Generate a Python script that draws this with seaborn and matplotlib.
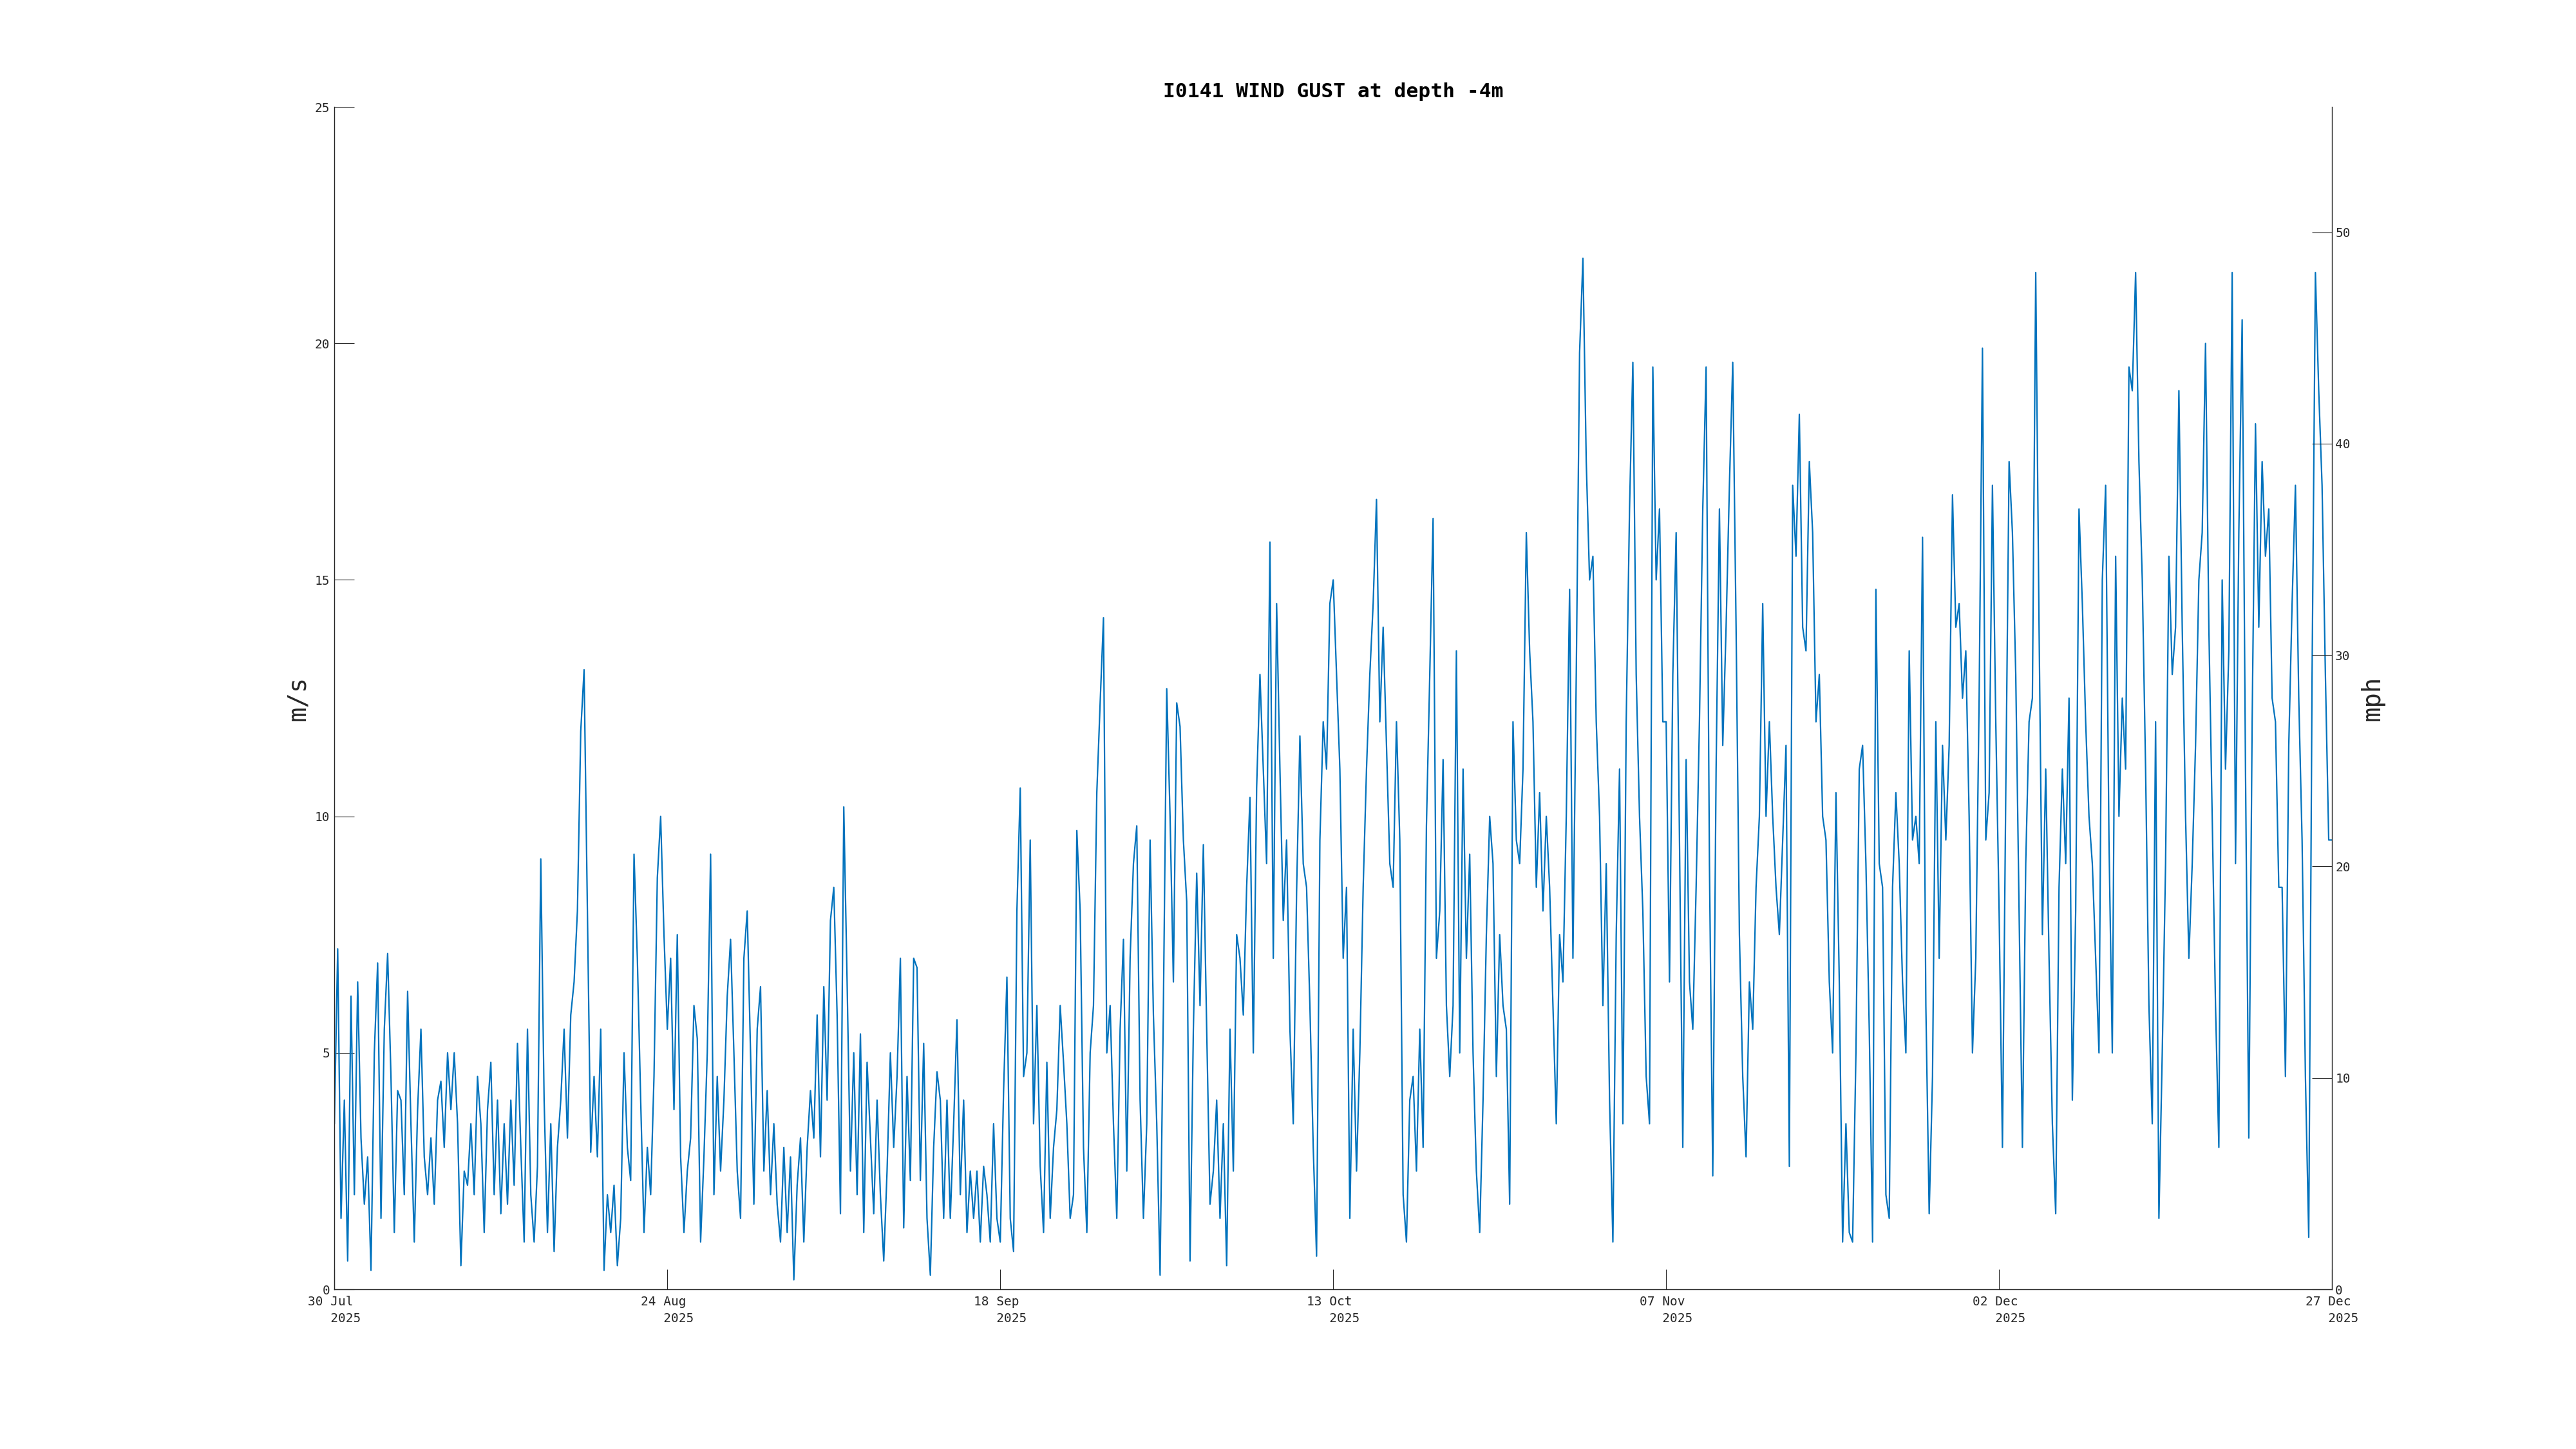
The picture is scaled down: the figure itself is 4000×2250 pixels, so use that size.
import numpy as np
import pandas as pd
import matplotlib
matplotlib.use('Agg')
import matplotlib.pyplot as plt
import seaborn as sns

# 6-hourly wind gust readings (m/s), one list per 25-day block
gust_jul_aug = [
    3.5, 7.2, 1.5, 4.0, 0.6, 6.2, 2.0, 6.5, 3.2, 1.8, 2.8, 0.4,
    5.0, 6.9, 1.5, 5.5, 7.1, 4.5, 1.2, 4.2, 4.0, 2.0, 6.3, 3.5,
    1.0, 3.8, 5.5, 2.8, 2.0, 3.2, 1.8, 4.0, 4.4, 3.0, 5.0, 3.8,
    5.0, 3.5, 0.5, 2.5, 2.2, 3.5, 2.0, 4.5, 3.5, 1.2, 3.8, 4.8,
    2.0, 4.0, 1.6, 3.5, 1.8, 4.0, 2.2, 5.2, 3.0, 1.0, 5.5, 2.0,
    1.0, 2.6, 9.1, 4.0, 1.2, 3.5, 0.8, 3.0, 4.0, 5.5, 3.2, 5.8,
    6.5, 8.0, 11.8, 13.1, 8.0, 2.9, 4.5, 2.8, 5.5, 0.4, 2.0, 1.2,
    2.2, 0.5, 1.5, 5.0, 3.0, 2.3, 9.2, 7.0, 4.0, 1.2, 3.0, 2.0,
    4.5, 8.7, 10.0, 7.5,
]
gust_aug_sep = [
    5.5, 7.0, 3.8, 7.5, 2.8, 1.2, 2.5, 3.2, 6.0, 5.3, 1.0, 2.8,
    5.0, 9.2, 2.0, 4.5, 2.5, 4.0, 6.2, 7.4, 5.0, 2.5, 1.5, 7.0,
    8.0, 5.0, 1.8, 5.5, 6.4, 2.5, 4.2, 2.0, 3.5, 1.8, 1.0, 3.0,
    1.2, 2.8, 0.2, 2.2, 3.2, 1.0, 3.0, 4.2, 3.2, 5.8, 2.8, 6.4,
    4.0, 7.8, 8.5, 5.8, 1.6, 10.2, 6.5, 2.5, 5.0, 2.0, 5.4, 1.2,
    4.8, 3.2, 1.6, 4.0, 2.0, 0.6, 2.5, 5.0, 3.0, 4.5, 7.0, 1.3,
    4.5, 2.3, 7.0, 6.8, 2.3, 5.2, 1.5, 0.3, 3.0, 4.6, 4.0, 1.5,
    4.0, 1.5, 3.5, 5.7, 2.0, 4.0, 1.2, 2.5, 1.5, 2.5, 1.0, 2.6,
    2.0, 1.0, 3.5, 1.5,
]
gust_sep_oct = [
    1.0, 4.2, 6.6, 1.5, 0.8, 8.0, 10.6, 4.5, 5.0, 9.5, 3.5, 6.0,
    2.6, 1.2, 4.8, 1.5, 3.0, 3.8, 6.0, 4.8, 3.5, 1.5, 2.0, 9.7,
    8.0, 3.0, 1.2, 5.0, 6.0, 10.5, 12.4, 14.2, 5.0, 6.0, 3.5, 1.5,
    5.5, 7.4, 2.5, 7.0, 9.0, 9.8, 4.0, 1.5, 3.5, 9.5, 5.8, 3.5,
    0.3, 6.0, 12.7, 10.0, 6.5, 12.4, 11.9, 9.5, 8.2, 0.6, 5.5, 8.8,
    6.0, 9.4, 5.5, 1.8, 2.5, 4.0, 1.5, 3.5, 0.5, 5.5, 2.5, 7.5,
    7.0, 5.8, 8.5, 10.4, 5.0, 10.6, 13.0, 11.0, 9.0, 15.8, 7.0, 14.5,
    11.0, 7.8, 9.5, 5.5, 3.5, 8.4, 11.7, 9.0, 8.5, 6.0, 3.0, 0.7,
    9.5, 12.0, 11.0, 14.5,
]
gust_oct_nov = [
    15.0, 13.0, 11.0, 7.0, 8.5, 1.5, 5.5, 2.5, 5.0, 8.5, 11.0, 13.0,
    14.5, 16.7, 12.0, 14.0, 11.5, 9.0, 8.5, 12.0, 9.5, 2.0, 1.0, 4.0,
    4.5, 2.5, 5.5, 3.0, 9.8, 13.0, 16.3, 7.0, 8.0, 11.2, 6.0, 4.5,
    6.0, 13.5, 5.0, 11.0, 7.0, 9.2, 5.0, 2.5, 1.2, 4.0, 7.5, 10.0,
    9.0, 4.5, 7.5, 6.0, 5.5, 1.8, 12.0, 9.5, 9.0, 11.0, 16.0, 13.5,
    12.0, 8.5, 10.5, 8.0, 10.0, 8.5, 6.0, 3.5, 7.5, 6.5, 10.0, 14.8,
    7.0, 13.0, 19.8, 21.8, 17.5, 15.0, 15.5, 12.0, 10.0, 6.0, 9.0, 4.0,
    1.0, 7.5, 11.0, 3.5, 12.0, 16.5, 19.6, 13.0, 10.0, 8.0, 4.5, 3.5,
    19.5, 15.0, 16.5, 12.0,
]
gust_nov_dec = [
    12.0, 6.5, 13.0, 16.0, 9.5, 3.0, 11.2, 6.5, 5.5, 8.5, 12.0, 16.5,
    19.5, 9.0, 2.4, 11.0, 16.5, 11.5, 14.0, 17.0, 19.6, 14.0, 7.5, 4.5,
    2.8, 6.5, 5.5, 8.5, 10.0, 14.5, 10.0, 12.0, 10.0, 8.5, 7.5, 9.5,
    11.5, 2.6, 17.0, 15.5, 18.5, 14.0, 13.5, 17.5, 16.0, 12.0, 13.0, 10.0,
    9.5, 6.5, 5.0, 10.5, 6.5, 1.0, 3.5, 1.2, 1.0, 5.0, 11.0, 11.5,
    9.0, 5.5, 1.0, 14.8, 9.0, 8.5, 2.0, 1.5, 8.5, 10.5, 9.0, 6.5,
    5.0, 13.5, 9.5, 10.0, 9.0, 15.9, 6.0, 1.6, 4.5, 12.0, 7.0, 11.5,
    9.5, 11.5, 16.8, 14.0, 14.5, 12.5, 13.5, 10.0, 5.0, 7.0, 12.5, 19.9,
    9.5, 10.5, 17.0, 12.0,
]
gust_dec = [
    8.0, 3.0, 10.5, 17.5, 16.0, 13.0, 8.0, 3.0, 9.0, 12.0, 12.5, 21.5,
    14.0, 7.5, 11.0, 7.0, 3.5, 1.6, 8.5, 11.0, 9.0, 12.5, 4.0, 8.0,
    16.5, 14.5, 12.0, 10.0, 9.0, 7.0, 5.0, 15.0, 17.0, 9.5, 5.0, 15.5,
    10.0, 12.5, 11.0, 19.5, 19.0, 21.5, 17.5, 15.0, 11.0, 6.0, 3.5, 12.0,
    1.5, 5.0, 9.0, 15.5, 13.0, 14.0, 19.0, 14.0, 10.0, 7.0, 9.0, 11.5,
    15.0, 16.0, 20.0, 14.0, 10.0, 6.0, 3.0, 15.0, 11.0, 13.5, 21.5, 9.0,
    16.0, 20.5, 11.0, 3.2, 12.0, 18.3, 14.0, 17.5, 15.5, 16.5, 12.5, 12.0,
    8.5, 8.5, 4.5, 11.5, 14.5, 17.0, 12.5, 9.5, 4.5, 1.1, 13.0, 21.5,
    19.0, 17.0, 13.0, 9.5, 9.5,
]

start_date = '2025-07-30'
end_date = '2025-12-27'
tick_dates = ['2025-07-30', '2025-08-24', '2025-09-18', '2025-10-13',
              '2025-11-07', '2025-12-02', '2025-12-27']
tick_days = ['30 Jul', '24 Aug', '18 Sep', '13 Oct', '07 Nov', '02 Dec', '27 Dec']
tick_year = '2025'
ms_ticks = [0, 5, 10, 15, 20, 25]
mph_ticks = [0, 10, 20, 30, 40, 50]
MS_TO_MPH = 2.23694

gust = gust_jul_aug + gust_aug_sep + gust_sep_oct + gust_oct_nov + gust_nov_dec + gust_dec
df = pd.DataFrame({
    'time': pd.date_range(start_date, periods=len(gust), freq='6h'),
    'gust': gust,
})

sns.set_theme(style='white')
plt.rcParams['font.family'] = ['DejaVu Sans Mono', 'DejaVu Sans']

axis_col = '#262626'
line_col = '#0072BD'

fig = plt.figure(figsize=(40, 22.5), dpi=100)
ax = fig.add_axes([0.1298, 0.1102, 0.7755, 0.816])
sns.lineplot(data=df, x='time', y='gust', ax=ax, color=line_col,
             linewidth=1.6, estimator=None)

ax.set_xlim(pd.Timestamp(start_date), pd.Timestamp(end_date))
ax.set_ylim(0, 25)
ax.set_xticks(pd.to_datetime(tick_dates))
ax.set_xticklabels([f'{d} \n   {tick_year}' for d in tick_days], linespacing=1.45)
ax.set_yticks(ms_ticks)
ax.set_xlabel('')
ax.set_ylabel('m/s', fontsize=28, color=axis_col)
ax.yaxis.set_label_coords(-0.0121, 0.5)
ax.set_title('I0141 WIND GUST at depth -4m', fontsize=22.5,
             fontweight='bold', color='black', pad=10.5)

ax2 = ax.twinx()
ax2.set_ylim(0, 25 * MS_TO_MPH)
ax2.set_yticks(mph_ticks)
ax2.set_ylabel('mph', fontsize=28, color=axis_col)
ax2.yaxis.set_label_coords(1.0142, 0.5)
ax2.grid(False)
ax.grid(False)

for s in ['top', 'right']:
    ax.spines[s].set_visible(False)
for s in ['top', 'left', 'bottom']:
    ax2.spines[s].set_visible(False)
for a in (ax, ax2):
    for s in a.spines.values():
        s.set_color(axis_col)
        s.set_linewidth(1.0)

ax.tick_params(axis='both', direction='in', length=22, width=0.8,
               color=axis_col, labelcolor=axis_col, labelsize=14,
               bottom=True, left=True)
ax.tick_params(axis='x', pad=7)
ax.tick_params(axis='y', pad=5)
ax2.tick_params(axis='y', direction='in', length=22, width=0.8,
                color=axis_col, labelcolor=axis_col, labelsize=14,
                right=True, pad=3.6)

fig.savefig('out.png', dpi=100, facecolor='white')
